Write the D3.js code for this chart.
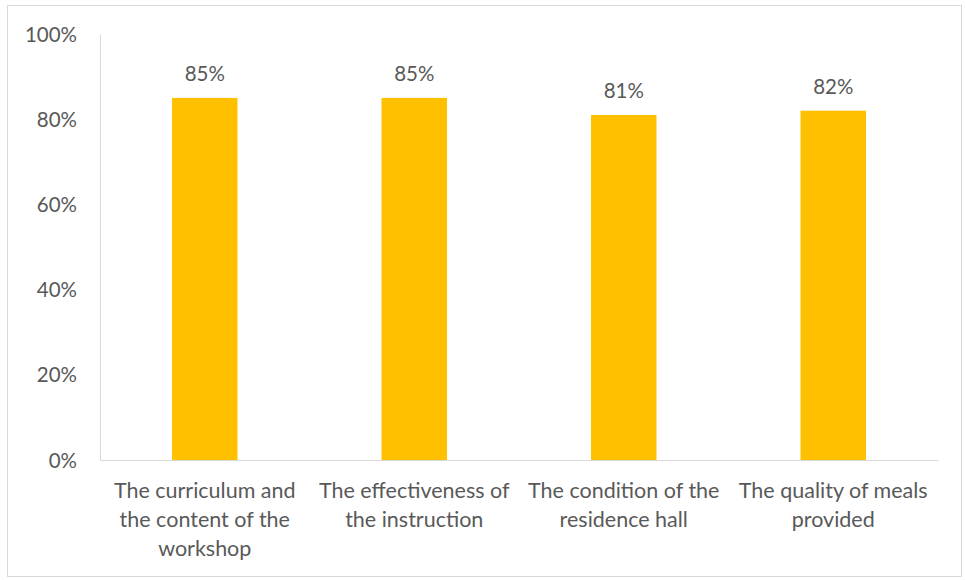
<!DOCTYPE html>
<html>
<head>
<meta charset="utf-8">
<script src="https://cdn.jsdelivr.net/npm/d3@7"></script>
<style>
  body { margin: 0; background: #fff; }
  #chart { width: 965px; height: 580px; }
  text { font-family: Lato, "Open Sans", sans-serif; fill: #595959; }
</style>
</head>
<body>
<div id="chart"></div>
<script>
//Datos
const categories = [
    'The curriculum and the content of the workshop',
    'The effectiveness of the instruction',
    'The condition of the residence hall',
    'The quality of meals provided'
];
const categoryLines = [
    ['The curriculum and', 'the content of the', 'workshop'],
    ['The effectiveness of', 'the instruction'],
    ['The condition of the', 'residence hall'],
    ['The quality of meals', 'provided']
];
const values = [85, 85, 81, 82];
const yTicks = [0, 20, 40, 60, 80, 100];

const COLOR_BAR = '#FFC000';

let margin = {top: 34, right: 27, bottom: 120, left: 100},
    width = 965 - margin.left - margin.right,
    height = 580 - margin.top - margin.bottom;

let root = d3.select('#chart')
    .append('svg')
    .attr('width', 965)
    .attr('height', 580);

//Borde exterior
root.append('rect')
    .attr('x', 7.5).attr('y', 5.5)
    .attr('width', 954).attr('height', 571)
    .attr('fill', 'none')
    .attr('stroke', '#d9d9d9');

let svg = root.append('g')
    .attr('transform', 'translate(' + margin.left + ',' + margin.top + ')');

let x = d3.scaleBand()
    .domain(categories)
    .range([0, width]);

let y = d3.scaleLinear()
    .domain([0, 100])
    .range([height, 0]);

//Eje Y
let yAxis = svg.append('g')
    .call(d3.axisLeft(y).tickValues(yTicks).tickFormat(d => d + '%').tickSize(0).tickPadding(23));
yAxis.select('.domain').attr('stroke', '#d9d9d9');
yAxis.selectAll('.tick text').style('font-size', '20.5px').attr('dy', '0.35em');

//Eje X
let xAxis = svg.append('g')
    .attr('transform', 'translate(0,' + height + ')')
    .call(d3.axisBottom(x).tickSize(0).tickFormat(''));
xAxis.select('.domain').attr('stroke', '#d9d9d9');

xAxis.selectAll('.tick').each(function(d, i) {
    let t = d3.select(this).select('text')
        .attr('y', 0)
        .attr('dy', null)
        .style('font-size', '21.5px')
        .attr('text-anchor', 'middle');
    categoryLines[i].forEach(function(line, j) {
        t.append('tspan')
            .attr('x', 0)
            .attr('y', 38 + j * 29)
            .text(line);
    });
});

//Barras
let bw = 65.5;
svg.selectAll('.bar')
    .data(values)
    .enter()
    .append('rect')
    .attr('class', 'bar')
    .attr('x', (d, i) => x(categories[i]) + x.bandwidth() / 2 - bw / 2)
    .attr('y', d => y(d))
    .attr('width', bw)
    .attr('height', d => height - y(d))
    .attr('fill', COLOR_BAR);

//Etiquetas
svg.selectAll('.label')
    .data(values)
    .enter()
    .append('text')
    .attr('class', 'label')
    .attr('x', (d, i) => x(categories[i]) + x.bandwidth() / 2)
    .attr('y', d => y(d) - 17)
    .attr('text-anchor', 'middle')
    .style('font-size', '20.5px')
    .text(d => d + '%');
</script>
</body>
</html>
